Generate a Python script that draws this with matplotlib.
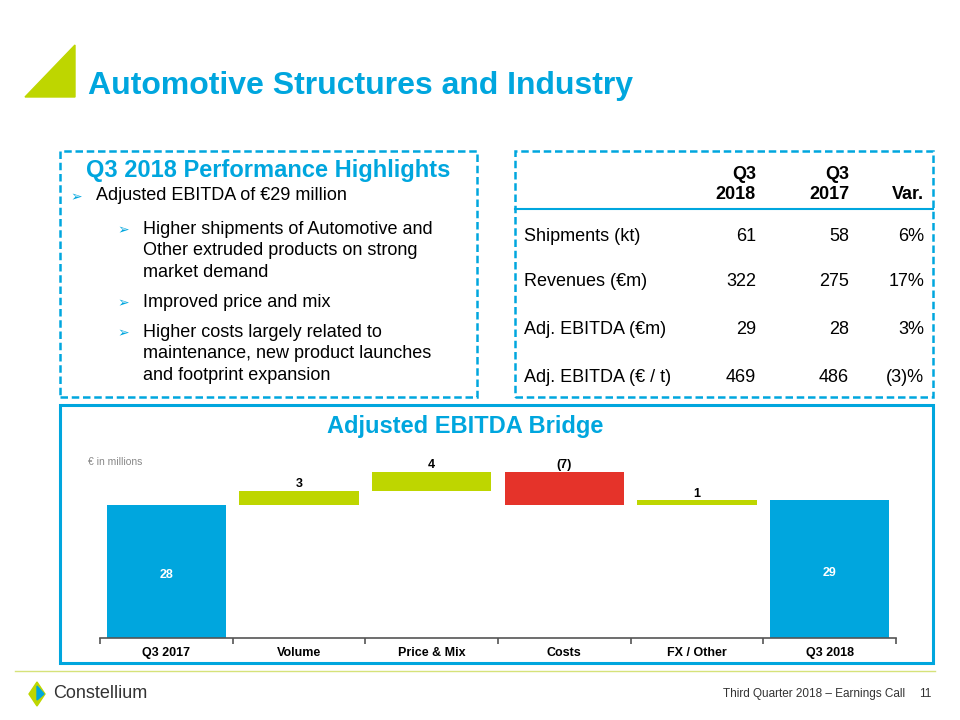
import matplotlib
matplotlib.use('Agg')
import matplotlib.pyplot as plt
import numpy as np
from matplotlib.patches import Rectangle, Polygon
from matplotlib.lines import Line2D

# bridge data (EUR millions)
steps = ['Q3 2017', 'Volume', 'Price & Mix', 'Costs', 'FX / Other', 'Q3 2018']
start_value = 28
deltas = [3, 4, -7, 1]
end_value = 29
delta_labels = ['3', '4', '(7)', '1']

# KPI table
table_cols = ['Q3\n2018', 'Q3\n2017', 'Var.']
table_rows = ['Shipments (kt)', 'Revenues (€m)', 'Adj. EBITDA (€m)', 'Adj. EBITDA (€ / t)']
q3_2018 = ['61', '322', '29', '469']
q3_2017 = ['58', '275', '28', '486']
variation = ['6%', '17%', '3%', '(3)%']

# highlights
headline = 'Adjusted EBITDA of €29 million'
sub_points = ['Higher shipments of Automotive and\nOther extruded products on strong\nmarket demand',
              'Improved price and mix',
              'Higher costs largely related to\nmaintenance, new product launches\nand footprint expansion']

BLUE = '#00A6DE'
LIME = '#BED600'
RED = '#E5332A'
FONT = ['Liberation Sans', 'DejaVu Sans']
NARROW = ['Liberation Sans Narrow', 'Liberation Sans', 'DejaVu Sans']

W, H = 960, 720
fig = plt.figure(figsize=(9.6, 7.2), dpi=100)


def fx(x):
    return x / W


def fy(y):
    return 1 - y / H


def txt(x, y, s, **kw):
    kw.setdefault('family', FONT)
    fig.text(fx(x), fy(y), s, **kw)


# title + triangle
fig.patches.append(Polygon([(fx(25), fy(97)), (fx(75), fy(45)), (fx(75), fy(97))],
                           closed=True, transform=fig.transFigure, color=LIME))
txt(88, 86, 'Automotive Structures and Industry', fontsize=23, fontweight='bold',
    color=BLUE, va='center')

# boxes
for x0, y0, x1, y1 in [(60, 151, 477, 397), (515, 151, 933, 397)]:
    fig.patches.append(Rectangle((fx(x0), fy(y1)), fx(x1 - x0), (y1 - y0) / H,
                                 transform=fig.transFigure, fill=False, edgecolor=BLUE,
                                 lw=1.8, linestyle=(0, (3, 1.5))))
fig.patches.append(Rectangle((fx(60), fy(663)), fx(873), 258 / H, transform=fig.transFigure,
                             fill=False, edgecolor=BLUE, lw=2.2))

# highlights
txt(268, 170, 'Q3 2018 Performance Highlights', fontsize=17, fontweight='bold',
    color=BLUE, ha='center', va='center')
txt(70, 197, '➢', fontsize=10, color=BLUE, va='center', family=['DejaVu Sans'])
txt(96, 196, headline, fontsize=13, va='center')
ys = [229, 302, 332]
for y, s in zip(ys, sub_points):
    txt(117, y + 1, '➢', fontsize=10, color=BLUE, va='center', family=['DejaVu Sans'])
    txt(143, y - 8, s, fontsize=13, va='top', linespacing=1.33)

# KPI table
col_x = [756, 849, 924]
for x, c in zip(col_x, table_cols):
    txt(x, 203, c, fontsize=13, fontweight='bold', ha='right', va='bottom', linespacing=1.2)
fig.add_artist(Line2D([fx(515), fx(933)], [fy(209), fy(209)], color=BLUE, lw=1.5))
row_y = [237, 282, 330, 377]
for y, lab, a, b, v in zip(row_y, table_rows, q3_2018, q3_2017, variation):
    txt(524, y, lab, fontsize=13, va='center')
    for x, s in zip(col_x, [a, b, v]):
        txt(x, y, s, fontsize=13, ha='right', va='center')

# bridge chart
txt(465, 426, 'Adjusted EBITDA Bridge', fontsize=17, fontweight='bold', color=BLUE,
    ha='center', va='center')
txt(88, 462, '€ in millions', fontsize=7.5, color='#888888', va='center')

ax = fig.add_axes([fx(100), fy(638), fx(796), 190 / H])
x = np.arange(len(steps))
levels = np.cumsum([start_value] + deltas)
bottoms = [0] + [min(levels[i], levels[i + 1]) for i in range(len(deltas))] + [0]
heights = [start_value] + [abs(d) for d in deltas] + [end_value]
colors = [BLUE] + [LIME if d > 0 else RED for d in deltas] + [BLUE]
ax.bar(x, heights, bottom=bottoms, width=0.9, color=colors)

ax.text(x[0], start_value / 2 - 0.8, str(start_value), ha='center', va='center', color='white',
        fontsize=9, fontweight='bold', family=FONT)
ax.text(x[-1], end_value / 2 - 0.8, str(end_value), ha='center', va='center', color='white',
        fontsize=9, fontweight='bold', family=FONT)
for i, (d, lab) in enumerate(zip(deltas, delta_labels)):
    top = bottoms[i + 1] + heights[i + 1]
    ax.text(x[i + 1], top + 0.15, lab, ha='center', va='bottom', fontsize=9,
            fontweight='bold', family=NARROW)

ax.set_xlim(-0.5, len(steps) - 0.5)
ax.set_ylim(0, 40)
for s in ['top', 'right', 'left']:
    ax.spines[s].set_visible(False)
ax.spines['bottom'].set_color('#555555')
ax.spines['bottom'].set_linewidth(1.2)
ax.set_yticks([])
ax.set_xticks(x)
ax.set_xticklabels(steps, fontsize=9, fontweight='bold', family=NARROW)
for lbl in ax.get_xticklabels():
    lbl.set_verticalalignment('baseline')
ax.set_xticks(np.arange(-0.5, len(steps)), minor=True)
ax.tick_params(axis='x', which='major', length=0, pad=13)
ax.tick_params(axis='x', which='minor', length=4, direction='out', color='#555555', width=1.2)

# footer
fig.add_artist(Line2D([fx(15), fx(935)], [fy(671), fy(671)], color='#D6E27A', lw=1))
fig.patches.append(Polygon([(fx(37), fy(682)), (fx(45), fy(694)), (fx(37), fy(706)), (fx(29), fy(694))],
                           closed=True, transform=fig.transFigure, color=LIME))
fig.patches.append(Polygon([(fx(37), fy(686)), (fx(44), fy(694)), (fx(37), fy(700))],
                           closed=True, transform=fig.transFigure, color=BLUE))
txt(53, 694, 'Constellium', fontsize=13, color='#333333', va='center', family=NARROW)
txt(905, 694, 'Third Quarter 2018 – Earnings Call', fontsize=8.5, color='#333333',
    ha='right', va='center', family=NARROW)
txt(931, 694, '11', fontsize=8.5, color='#333333', ha='right', va='center', family=FONT)

fig.savefig('out.png', dpi=100)
